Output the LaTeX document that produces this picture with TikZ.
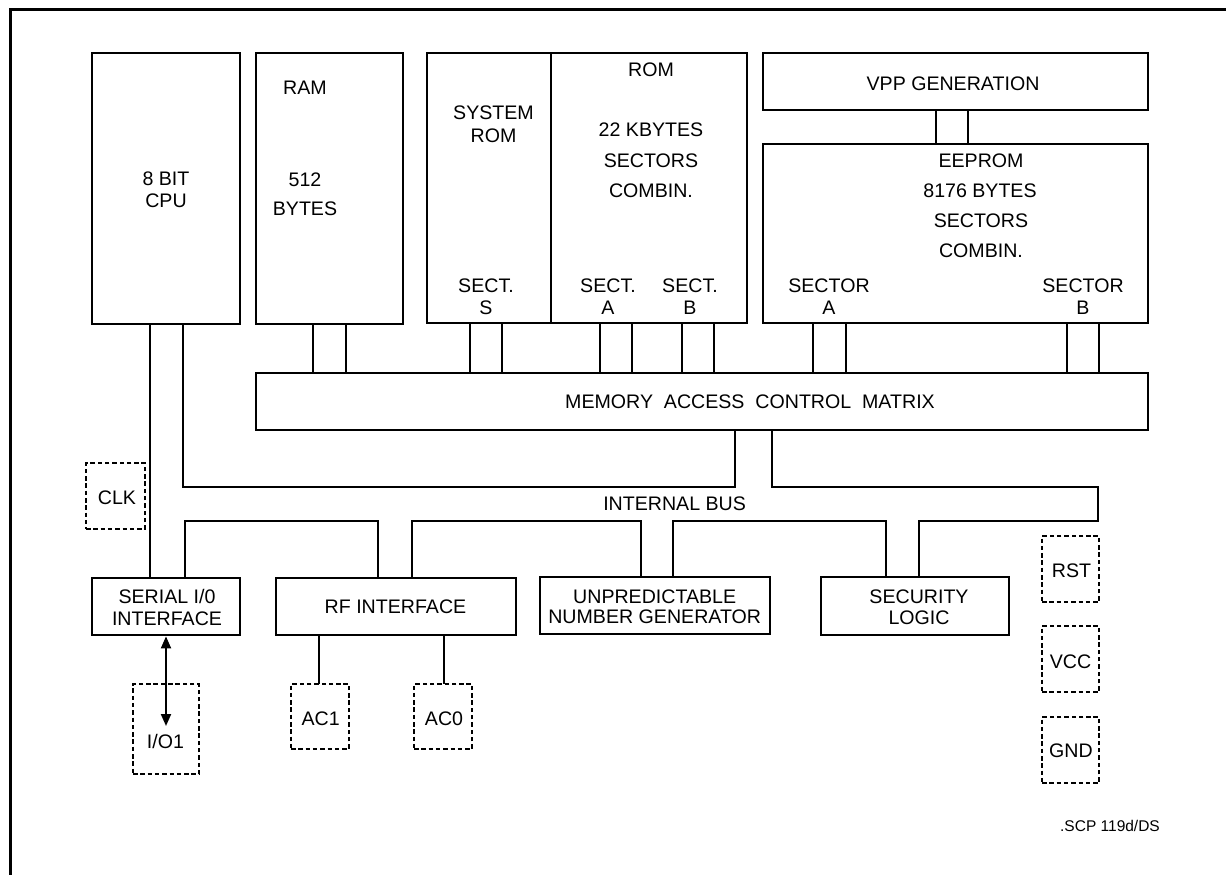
\documentclass[tikz,border=0pt]{standalone}
\usepackage{fontspec}
\setmainfont{Liberation Sans}
\usetikzlibrary{arrows.meta}
\tikzset{
  blk/.style={draw, line width=2.8pt, rectangle, inner sep=0pt, minimum width=#1},
  pin/.style={draw, line width=2pt, dash pattern=on 4.5pt off 2.8pt, rectangle, inner sep=0pt},
  conn/.style={line width=2pt, line cap=rect},
  lbl/.style={anchor=base, inner sep=0pt, font=\fontsize{19.6}{21}\selectfont},
  small/.style={anchor=base, inner sep=0pt, font=\fontsize{15.5}{17}\selectfont},
  frame/.style={line width=3pt}
}
\begin{document}
\begin{tikzpicture}[x=1pt,y=-1pt]
\useasboundingbox (0,0) rectangle (1226,875);
\draw[frame] (10,876) -- (10,10) -- (1227,10);

% main blocks
\node[blk=148pt, minimum height=271pt] (cpu) at (166,188.5) {};
\node[blk=147pt, minimum height=271pt] (ram) at (329.5,188.5) {};
\node[blk=124pt, minimum height=270pt] (sysrom) at (489,188) {};
\node[blk=196pt, minimum height=270pt] (rom) at (649,188) {};
\node[blk=385pt, minimum height=57pt] (vpp) at (955.5,81.5) {};
\node[blk=385pt, minimum height=179pt] (eeprom) at (955.5,233.5) {};
\node[blk=892pt, minimum height=57pt] (mcm) at (702,401.5) {};
\node[blk=148pt, minimum height=57pt] (serial) at (166,606.5) {};
\node[blk=240pt, minimum height=57pt] (rf) at (396,606.5) {};
\node[blk=230pt, minimum height=57pt] (ung) at (655,605.5) {};
\node[blk=188pt, minimum height=58pt] (sec) at (915,606) {};

% pins
\node[pin, minimum width=59pt, minimum height=66pt] (clk) at (115.5,496) {};
\node[pin, minimum width=57pt, minimum height=66pt] (rst) at (1070.5,569) {};
\node[pin, minimum width=57pt, minimum height=66pt] (vcc) at (1070.5,659) {};
\node[pin, minimum width=57pt, minimum height=66pt] (gnd) at (1070.5,750) {};
\node[pin, minimum width=66pt, minimum height=90pt] (io1) at (166,729) {};
\node[pin, minimum width=58pt, minimum height=65pt] (ac1) at (320,716.5) {};
\node[pin, minimum width=58pt, minimum height=65pt] (ac0) at (443,716.5) {};

% texts
\node[lbl] (t1) at (166,185) {8 BIT};
\node[lbl] (t2) at (166,207) {CPU};
\node[lbl] (t3) at (305,95) {RAM};
\node[lbl] (t4) at (305,186) {512};
\node[lbl] (t5) at (305,215) {BYTES};
\node[lbl] (t6) at (493.5,119) {SYSTEM};
\node[lbl] (t7) at (493.5,142) {ROM};
\node[lbl] (t8) at (486,292) {SECT.};
\node[lbl] (t9) at (486,314) {S};
\node[lbl] (t10) at (651,77) {ROM};
\node[lbl] (t11) at (651,136) {22 KBYTES};
\node[lbl] (t12) at (651,167) {SECTORS};
\node[lbl] (t13) at (651,197) {COMBIN.};
\node[lbl] (t14) at (608,292) {SECT.};
\node[lbl] (t15) at (608,314) {A};
\node[lbl] (t16) at (690,292) {SECT.};
\node[lbl] (t17) at (690,314) {B};
\node[lbl] (t18) at (953,91) {VPP GENERATION};
\node[lbl] (t19) at (981,167) {EEPROM};
\node[lbl] (t20) at (980,197) {8176 BYTES};
\node[lbl] (t21) at (981,227) {SECTORS};
\node[lbl] (t22) at (981,257) {COMBIN.};
\node[lbl] (t23) at (829,292) {SECTOR};
\node[lbl] (t24) at (829,314) {A};
\node[lbl] (t25) at (1083,292) {SECTOR};
\node[lbl] (t26) at (1083,314) {B};
\node[lbl] (t27) at (750,408) {MEMORY\ \ ACCESS\ \ CONTROL\ \ MATRIX};
\node[lbl] (t28) at (674.6,510) {INTERNAL BUS};
\node[lbl] (t29) at (117,504) {CLK};
\node[lbl] (t30) at (167,603) {SERIAL I/0};
\node[lbl] (t31) at (167,625) {INTERFACE};
\node[lbl] (t32) at (395.5,613) {RF INTERFACE};
\node[lbl] (t33) at (654.7,603) {UNPREDICTABLE};
\node[lbl] (t34) at (654.7,623) {NUMBER GENERATOR};
\node[lbl] (t35) at (919,603) {SECURITY};
\node[lbl] (t36) at (919,624) {LOGIC};
\node[lbl] (t37) at (1071.5,577) {RST};
\node[lbl] (t38) at (1070.5,668) {VCC};
\node[lbl] (t39) at (1071,757) {GND};
\node[lbl] (t40) at (165.4,748) {I/O1};
\node[lbl] (t41) at (320.7,725) {AC1};
\node[lbl] (t42) at (444,725) {AC0};
\node[small] (t43) at (1110,831) {.SCP 119d/DS};

% memory buses
\foreach \x in {313,345.5} \draw[conn] (\x,0 |- ram.south) -- (\x,0 |- mcm.north);
\foreach \x in {469.5,501.5} \draw[conn] (\x,0 |- sysrom.south) -- (\x,0 |- mcm.north);
\foreach \x in {600,632,681.5,714} \draw[conn] (\x,0 |- rom.south) -- (\x,0 |- mcm.north);
\foreach \x in {812.5,845.5,1066.5,1099} \draw[conn] (\x,0 |- eeprom.south) -- (\x,0 |- mcm.north);
\foreach \x in {936,968} \draw[conn] (\x,0 |- vpp.south) -- (\x,0 |- eeprom.north);

% internal bus
\draw[conn] (150,0 |- cpu.south) -- (150,0 |- serial.north);
\draw[conn] (182.5,0 |- cpu.south) -- (182.5,487) -- (734.5,487) -- (734.5,0 |- mcm.south);
\draw[conn] (772,0 |- mcm.south) -- (772,487) -- (1098,487) -- (1098,521) -- (919,521) -- (919,0 |- sec.north);
\draw[conn] (886,0 |- sec.north) -- (886,521) -- (673,521) -- (673,0 |- ung.north);
\draw[conn] (641,0 |- ung.north) -- (641,521) -- (412,521) -- (412,0 |- rf.north);
\draw[conn] (378,0 |- rf.north) -- (378,521) -- (185,521) -- (185,0 |- serial.north);

% rf pins
\draw[conn] (319,0 |- rf.south) -- (319,0 |- ac1.north);
\draw[conn] (444,0 |- rf.south) -- (444,0 |- ac0.north);

% serial arrow
\coordinate (ioend) at (166,726);
\draw[line width=2pt, {Triangle[length=12pt,width=10pt]}-{Triangle[length=12pt,width=10pt]}] (serial.south) -- (ioend);
\end{tikzpicture}
\end{document}
